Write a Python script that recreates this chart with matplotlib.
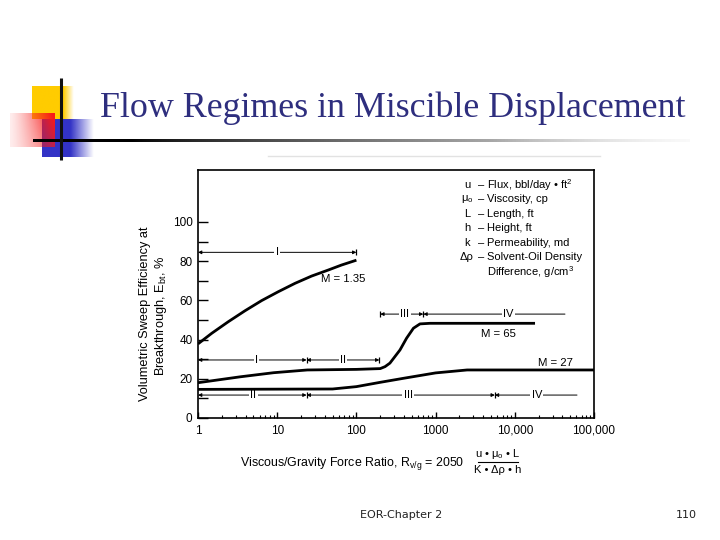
import numpy as np
import matplotlib.pyplot as plt
from matplotlib.ticker import NullFormatter

plt.rcParams['font.family'] = ['Liberation Sans', 'DejaVu Sans']
plt.rcParams['mathtext.fontset'] = 'custom'
plt.rcParams['mathtext.rm'] = 'Liberation Sans'
plt.rcParams['mathtext.it'] = 'Liberation Sans:italic'

# curves
m135_x = [1, 1.49, 2.41, 3.92, 6.37, 10.3, 16.8, 27.2, 44.3, 64.6, 100]
m135_y = [37.8, 43.2, 49.1, 54.7, 59.9, 64.4, 68.7, 72.4, 75.5, 78, 80.5]

m65_x = [1, 3.4, 9, 24, 100, 200, 230, 265, 355, 430, 525, 635, 850, 18000]
m65_y = [18, 21, 23.1, 24.5, 24.8, 25.2, 26.2, 28, 34.7, 40.7, 45.8, 48, 48.3, 48.3]

m27_x = [1, 50, 100, 200, 400, 1000, 2500, 100000]
m27_y = [14.6, 14.8, 16, 18.2, 20.3, 23, 24.5, 24.5]

curve_labels = ['M = 1.35', 'M = 65', 'M = 27']
curve_label_x = [68, 6300, 33000]
curve_label_y = [71, 43, 28]

# flow regime rows: level, segment edges, regime names, where the name sits
row_y = [84.5, 29.6, 53, 11.7]
row_edges = [[1, 100], [1, 23.5, 195], [200, 700, 43000], [1, 23.5, 5600, 61000]]
row_names = [['I'], ['I', 'II'], ['III', 'IV'], ['II', 'III', 'IV']]
row_name_x = [[10], [5.5, 68], [410, 8300], [5, 450, 19000]]
row_open_end = [False, False, True, True]

xticks = [1, 10, 100, 1000, 10000, 100000]
xtick_labels = ['1', '10', '100', '1000', '10,000', '100,000']
yticks = [0, 20, 40, 60, 80, 100]

legend_sym = ['u', r'μ$_\mathrm{o}$', 'L', 'h', 'k', 'Δρ', '']
legend_desc = [r'Flux, bbl/day • ft$^\mathrm{2}$', 'Viscosity, cp', 'Length, ft', 'Height, ft',
               'Permeability, md', 'Solvent-Oil Density', r'Difference, g/cm$^\mathrm{3}$']

fig = plt.figure(figsize=(7.2, 5.4), dpi=100)

# slide background in pixel coordinates
bg = fig.add_axes([0, 0, 1, 1])
bg.axis('off')


def grad(rgb, x0, x1, y0, y1, alpha, z):
    img = np.zeros((alpha.shape[0], alpha.shape[1], 4))
    img[..., :3] = rgb
    img[..., 3] = alpha
    bg.imshow(img, extent=(x0, x1, y1, y0), aspect='auto', interpolation='bilinear', zorder=z)


fx = np.linspace(0, 1, 100)
# yellow square, fading on the right
a = np.clip((1 - fx) / 0.25, 0, 1)[None, :]
grad((1.0, 0.8, 0.0), 32, 74, 86, 119, a, 1)
# blue square
a = np.clip((1 - fx) / 0.45, 0, 1)[None, :]
grad((0.2, 0.2, 0.78), 42, 94, 119, 157, a, 2)
# red square
fy = np.linspace(0, 1, 60)[:, None]
a = (fx[None, :] ** 1.3) * (1 - 0.35 * fy) + 0.08
grad((0.97, 0.1, 0.1), 10, 55, 113, 147, np.clip(a, 0, 1), 3)

bg.plot([61, 61], [78, 160], color='#111111', lw=2.2, zorder=5, solid_capstyle='butt')
# horizontal rule, black fading to light grey
hx = np.linspace(0, 1, 300)
shade = np.clip((hx - 0.15) / 0.85, 0, 1) ** 0.8 * 0.93
img = np.zeros((1, len(hx), 4))
img[0, :, 0] = shade
img[0, :, 1] = shade
img[0, :, 2] = shade
img[0, :, 3] = 1 - 0.7 * np.clip((hx - 0.7) / 0.3, 0, 1)
bg.imshow(img, extent=(33, 690, 142.5, 139.5), aspect='auto', interpolation='bilinear', zorder=4)
bg.plot([268, 600], [156, 156], color='#e2e2e2', lw=1, zorder=1)

bg.text(100, 108, 'Flow Regimes in Miscible Displacement', family='Liberation Serif',
        fontsize=25.8, color='#2e2e7e', ha='left', va='center')
bg.text(401, 515, 'EOR-Chapter 2', family='DejaVu Sans', fontsize=8, color='#222222',
        ha='center', va='center')
bg.text(697, 515, '110', family='DejaVu Sans', fontsize=8, color='#222222',
        ha='right', va='center')

# axis titles of the scanned figure
bg.text(145, 314, 'Volumetric Sweep Efficiency at', rotation=90, fontsize=9.2,
        ha='center', va='center')
bg.text(161, 316, r'Breakthrough, E$_\mathrm{bt}$, %', rotation=90, fontsize=9.2,
        ha='center', va='center')
bg.text(240, 463, r'Viscous/Gravity Force Ratio, R$_\mathrm{v/g}$ = 2050', fontsize=8.9,
        ha='left', va='center')
bg.text(498, 454, r'u • μ$_\mathrm{o}$ • L', fontsize=8, ha='center', va='center')
bg.text(498, 470, 'K • Δρ • h', fontsize=8, ha='center', va='center')
bg.plot([478, 518], [462, 462], color='k', lw=0.8)

bg.set_xlim(0, 720)
bg.set_ylim(540, 0)

# chart
ax = fig.add_axes([198 / 720, 1 - 418 / 540, 396 / 720, 248 / 540])
ax.set_xscale('log')
ax.set_xlim(1, 1e5)
ax.set_ylim(0, 126.5)
for s in ax.spines.values():
    s.set_linewidth(1.2)

ax.set_xticks(xticks)
ax.set_xticklabels(xtick_labels)
ax.xaxis.set_minor_formatter(NullFormatter())
ax.set_yticks(yticks)
ax.set_yticks([10, 30, 50, 70, 90], minor=True)
ax.tick_params(axis='y', which='both', direction='in', length=7, width=1, labelsize=8.5, pad=4)
ax.tick_params(axis='x', which='major', direction='in', length=4.5, width=1, labelsize=8.5, pad=5)
ax.tick_params(axis='x', which='minor', direction='in', length=2.5, width=0.8)

for xs, ys in [(m135_x, m135_y), (m65_x, m65_y), (m27_x, m27_y)]:
    ax.plot(xs, ys, color='k', lw=2, solid_capstyle='butt', solid_joinstyle='round', zorder=6)

for lab, lx, ly in zip(curve_labels, curve_label_x, curve_label_y):
    ax.text(lx, ly, lab, fontsize=8.2, ha='center', va='center')

for y, edges, names, nx, open_end in zip(row_y, row_edges, row_names, row_name_x, row_open_end):
    n = len(names)
    for i in range(n):
        last_open = open_end and i == n - 1
        style = '<|-' if last_open else '<|-|>'
        ax.annotate('', xy=(edges[i + 1], y), xytext=(edges[i], y),
                    arrowprops=dict(arrowstyle=style, color='k', lw=0.7,
                                    mutation_scale=5, shrinkA=0, shrinkB=0))
        ax.text(nx[i], y, names[i], fontsize=8, ha='center', va='center', zorder=5,
                bbox=dict(fc='white', ec='none', pad=1.0))
    bars = [e for e in edges if e > 1]
    if open_end:
        bars = bars[:-1]
    ax.plot(bars, [y] * len(bars), ls='none', marker='|', ms=5, mew=0.9, color='k')

lx0 = 0.679
for i, (sym, desc) in enumerate(zip(legend_sym, legend_desc)):
    yy = 0.94 - i * 0.0585
    ax.text(lx0, yy, sym, transform=ax.transAxes, fontsize=8, ha='center', va='center')
    if sym:
        ax.text(0.715, yy, '–', transform=ax.transAxes, fontsize=8, ha='center', va='center')
    ax.text(0.73, yy, desc, transform=ax.transAxes, fontsize=8, ha='left', va='center')

fig.savefig('out.png', dpi=100)
